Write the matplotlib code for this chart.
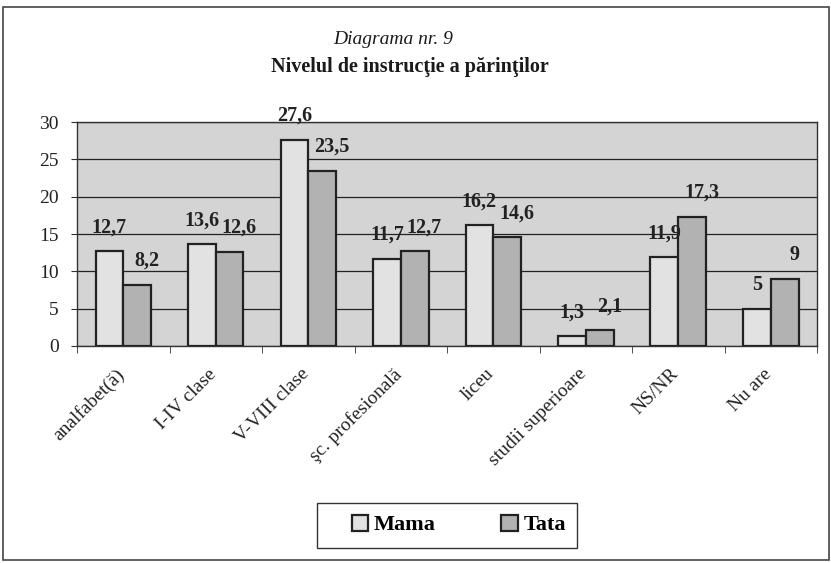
import numpy as np
import matplotlib
matplotlib.use("Agg")
import matplotlib.pyplot as plt
import matplotlib.transforms as mtransforms
from matplotlib.patches import Rectangle

# data
categories = ["analfabet(ă)", "I-IV clase", "V-VIII clase", "şc. profesională",
              "liceu", "studii superioare", "NS/NR", "Nu are"]
mama = [12.7, 13.6, 27.6, 11.7, 16.2, 1.3, 11.9, 5]
tata = [8.2, 12.6, 23.5, 12.7, 14.6, 2.1, 17.3, 9]
series_names = ["Mama", "Tata"]
yticks = [0, 5, 10, 15, 20, 25, 30]

plt.rcParams["font.family"] = ["Liberation Serif", "DejaVu Serif"]

fig = plt.figure(figsize=(8.31, 5.63), dpi=100)
ax = fig.add_axes([77 / 831, 1 - 346 / 563, 740 / 831, 224 / 563])
ax.set_facecolor("#d4d4d4")

x = np.arange(len(categories))
w = 0.3
b1 = ax.bar(x - w / 2, mama, w, color="#e2e2e2", edgecolor="#222222", lw=1.6,
            label=series_names[0], zorder=3)
b2 = ax.bar(x + w / 2, tata, w, color="#b2b2b2", edgecolor="#222222", lw=1.6,
            label=series_names[1], zorder=3)


def fmt(v):
    return f"{v:g}".replace(".", ",")


# value labels, the Tata ones sit a little to the right as in the original
for bars, vals, dx in [(b1, mama, 0), (b2, tata, 7)]:
    for r, v in zip(bars, vals):
        ax.annotate(fmt(v), (r.get_x() + r.get_width() / 2, v),
                    textcoords="offset points", xytext=(dx, 10), ha="center",
                    va="bottom", fontsize=14.5, fontweight="bold",
                    color="#222222", annotation_clip=False, zorder=4)

ax.set_xlim(-0.5, len(categories) - 0.5)
ax.set_ylim(0, 30)
ax.set_yticks(yticks)
ax.yaxis.grid(True, color="#222222", lw=0.9, zorder=1)
ax.tick_params(axis="y", labelsize=14, length=4, pad=9, color="#333333",
               labelcolor="#222222")
ax.set_xticks(x)
ax.set_xticklabels(categories, rotation=45, ha="right", rotation_mode="anchor",
                   fontsize=14, color="#222222")
ax.tick_params(axis="x", length=0, pad=14)
shift = mtransforms.ScaledTranslation(-8 / 100, 0, fig.dpi_scale_trans)
for lbl in ax.get_xticklabels():
    lbl.set_transform(lbl.get_transform() + shift)
# small separators between categories
ax.set_xticks(np.arange(len(categories) + 1) - 0.5, minor=True)
ax.tick_params(axis="x", which="minor", length=5, color="#333333")
for s in ax.spines.values():
    s.set_color("#333333")
    s.set_linewidth(1.0)

fig.text(393 / 831, 1 - 40 / 563, "Diagrama nr. 9", ha="center", va="center",
         fontsize=14, style="italic", color="#1a1a1a")
fig.text(410 / 831, 1 - 67 / 563, "Nivelul de instrucţie a părinţilor", ha="center",
         va="center", fontsize=14.5, fontweight="bold", color="#1a1a1a")

# legend without its own frame, boxed separately like the original
fig.legend(handles=[b1, b2], labels=series_names, loc="center",
           bbox_to_anchor=(459 / 831, 1 - 525 / 563), ncol=2,
           prop={"size": 16, "weight": "bold"}, frameon=False,
           handlelength=0.75, handleheight=0.75, handletextpad=0.25,
           columnspacing=2.95, borderpad=0, borderaxespad=0)
fig.patches.append(Rectangle((317 / 831, 1 - 548 / 563), 260 / 831, 45 / 563,
                             transform=fig.transFigure, fill=False,
                             edgecolor="#333333", lw=1.0))

fig.patches.append(Rectangle((0.004, 0.006), 0.994, 0.982, transform=fig.transFigure,
                             fill=False, edgecolor="#444444", lw=1.2))

fig.savefig("out.png", dpi=100)
